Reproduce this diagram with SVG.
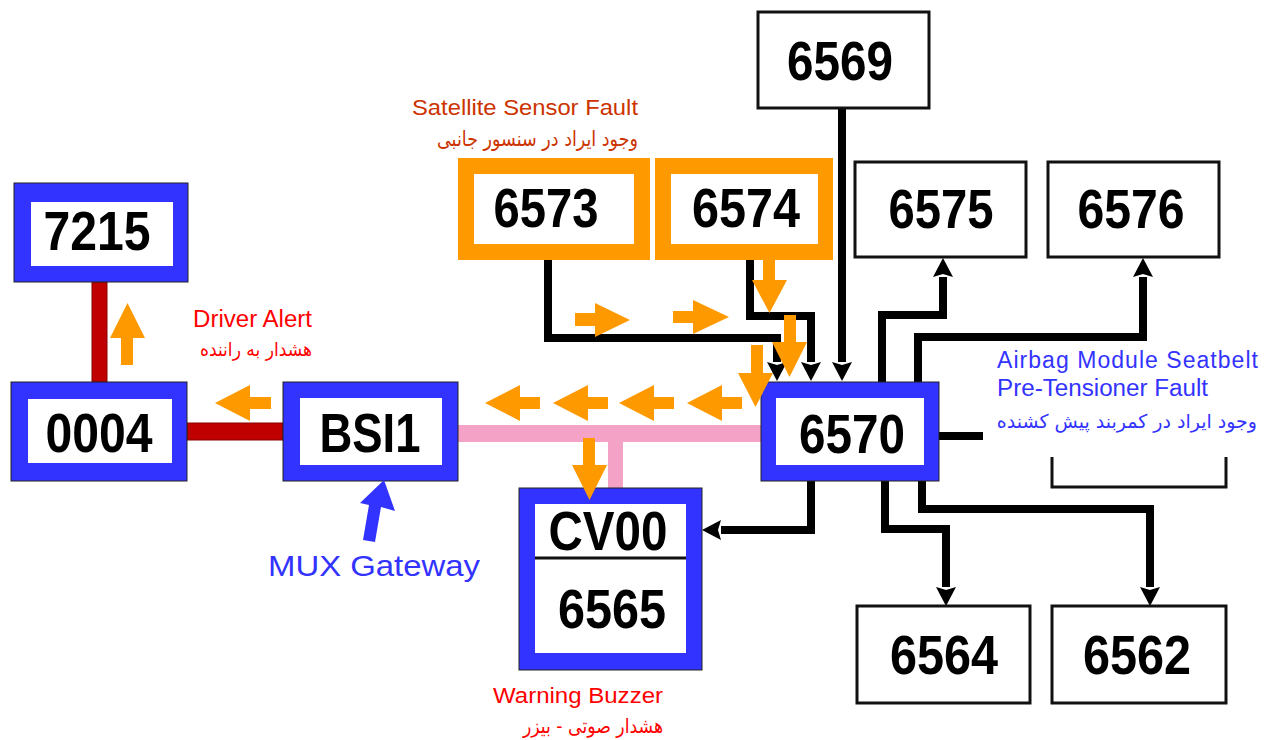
<svg xmlns="http://www.w3.org/2000/svg" width="1271" height="740" viewBox="0 0 1271 740">
<style>
.blue{fill:#3333ff;stroke:#222;stroke-width:1}
.org{fill:#ff9900}
.inner{fill:#fff}
.wbox{fill:#fff;stroke:#111;stroke-width:3}
.lbl{font-family:"Liberation Sans",Arial,sans-serif;font-weight:bold;font-size:56px;fill:#000;text-anchor:middle}
.conn{fill:none;stroke:#000;stroke-width:8;stroke-linejoin:miter;marker-end:url(#ah)}
.en{font-family:"Liberation Sans",Arial,sans-serif}
.fa{font-family:"DejaVu Sans","Noto Sans",sans-serif;text-anchor:end}
.sig{fill:#ff9900}
</style>
<defs>
<marker id="ah" markerUnits="userSpaceOnUse" markerWidth="19" markerHeight="20" viewBox="0 0 19 20" refX="0" refY="10" orient="auto">
<path d="M0,0 L19,10 L0,20 L3,10 z" fill="#000"/>
</marker>
</defs>
<rect width="1271" height="740" fill="#fff"/>

<g id="buses">
<rect x="92" y="282" width="15" height="100" fill="#c00000" stroke="#800" stroke-width="1"/>
<rect x="187" y="423" width="96" height="17" fill="#c00000" stroke="#800" stroke-width="1"/>
<rect x="458" y="425" width="303" height="17" fill="#f4a3c6"/>
<rect x="608" y="440" width="15" height="48" fill="#f4a3c6"/>
</g>

<g id="connectors">
<path class="conn" d="M548,260 V338 H777 V362"/>
<path class="conn" d="M750,260 V316 H811 V362"/>
<path class="conn" d="M842,108 V362"/>
<path class="conn" d="M882,382 V315 H943 V277"/>
<path class="conn" d="M918,382 V337 H1143 V277"/>
<path class="conn" d="M811,481 V530 H721"/>
<path class="conn" d="M885,481 V529 H946 V587"/>
<path class="conn" d="M922,481 V509 H1150 V587"/>
<path d="M939,436 H1000" fill="none" stroke="#000" stroke-width="8"/>
</g>

<g id="n7215">
<rect class="blue" x="14" y="183" width="174" height="99"/>
<rect class="inner" x="31" y="202" width="142" height="64"/>
<text class="lbl" x="97" y="250" textLength="107" lengthAdjust="spacingAndGlyphs">7215</text>
</g>
<g id="n0004">
<rect class="blue" x="11" y="382" width="176" height="99"/>
<rect class="inner" x="28" y="399" width="144" height="64"/>
<text class="lbl" x="99" y="452" textLength="107" lengthAdjust="spacingAndGlyphs">0004</text>
</g>
<g id="nBSI1">
<rect class="blue" x="283" y="382" width="175" height="99"/>
<rect class="inner" x="300" y="398" width="142" height="67"/>
<text class="lbl" x="370" y="452" textLength="101" lengthAdjust="spacingAndGlyphs">BSI1</text>
</g>
<g id="n6570">
<rect class="blue" x="761" y="382" width="178" height="99"/>
<rect class="inner" x="776" y="398" width="148" height="67"/>
<text class="lbl" x="852" y="453" textLength="106" lengthAdjust="spacingAndGlyphs">6570</text>
</g>
<g id="nCV00">
<rect class="blue" x="519" y="488" width="183" height="182"/>
<rect class="inner" x="535" y="504" width="151" height="149"/>
<line x1="535" y1="558" x2="686" y2="558" stroke="#111" stroke-width="3"/>
<text class="lbl" x="608" y="550" textLength="119" lengthAdjust="spacingAndGlyphs">CV00</text>
<text class="lbl" x="612" y="628" textLength="108" lengthAdjust="spacingAndGlyphs">6565</text>
</g>
<g id="n6573">
<rect class="org" x="458" y="158" width="192" height="102"/>
<rect class="inner" x="474" y="174" width="160" height="70"/>
<text class="lbl" x="546" y="227" textLength="105" lengthAdjust="spacingAndGlyphs">6573</text>
</g>
<g id="n6574">
<rect class="org" x="655" y="158" width="178" height="102"/>
<rect class="inner" x="671" y="174" width="147" height="70"/>
<text class="lbl" x="746" y="227" textLength="108" lengthAdjust="spacingAndGlyphs">6574</text>
</g>
<g id="n6569">
<rect class="wbox" x="758" y="12" width="171" height="96"/>
<text class="lbl" x="840" y="80" textLength="106" lengthAdjust="spacingAndGlyphs">6569</text>
</g>
<g id="n6575">
<rect class="wbox" x="855" y="162" width="171" height="95"/>
<text class="lbl" x="941" y="228" textLength="105" lengthAdjust="spacingAndGlyphs">6575</text>
</g>
<g id="n6576">
<rect class="wbox" x="1048" y="162" width="171" height="95"/>
<text class="lbl" x="1131" y="228" textLength="107" lengthAdjust="spacingAndGlyphs">6576</text>
</g>
<g id="n6564">
<rect class="wbox" x="857" y="606" width="173" height="97"/>
<text class="lbl" x="944" y="674" textLength="108" lengthAdjust="spacingAndGlyphs">6564</text>
</g>
<g id="n6562">
<rect class="wbox" x="1052" y="606" width="174" height="97"/>
<text class="lbl" x="1137" y="674" textLength="108" lengthAdjust="spacingAndGlyphs">6562</text>
</g>
<g id="nHidden">
<rect class="wbox" x="1052" y="448" width="174" height="39"/>
</g>

<g id="airbag-label">
<rect x="983" y="341" width="288" height="116" fill="#fff"/>
<text class="en" x="997" y="368" font-size="23" fill="#3333ff" textLength="261" lengthAdjust="spacing">Airbag  Module  Seatbelt</text>
<text class="en" x="997" y="396" font-size="23" fill="#3333ff" textLength="211" lengthAdjust="spacingAndGlyphs">Pre-Tensioner Fault</text>
<text class="fa" x="1257" y="428" font-size="19" fill="#3333ff">وجود ایراد در کمربند پیش کشنده</text>
</g>

<g id="signals">
<polygon class="sig" points="121,365 121,338 110,338 127.5,303 145,338 133,338 133,365"/>
<polygon class="sig" points="271,397 250,397 250,385 215,403 250,421 250,409 271,409"/>
<polygon class="sig" points="540,397 520,397 520,385 485,403 520,421 520,409 540,409"/>
<polygon class="sig" points="608,397 588,397 588,385 553,403 588,421 588,409 608,409"/>
<polygon class="sig" points="674,397 654,397 654,385 619,403 654,421 654,409 674,409"/>
<polygon class="sig" points="742,397 722,397 722,385 687,403 722,421 722,409 742,409"/>
<polygon class="sig" points="583,438 595,438 595,465 607,465 589.5,500 572,465 583,465"/>
<polygon class="sig" points="575,313 595,313 595,303 630,320 595,337 595,326 575,326"/>
<polygon class="sig" points="673,311 693,311 693,300 729,317 693,334 693,323 673,323"/>
<polygon class="sig" points="763,260 775,260 775,280 787,280 769.5,313 752,280 763,280"/>
<polygon class="sig" points="784,315 796,315 796,342 807,342 789.5,377 772,342 784,342"/>
<polygon class="sig" points="751,345 763,345 763,373 773,373 755.5,407 738,373 751,373"/>
<polygon fill="#3333ff" points="384,480 395,511 381,507 375,542 363,540 369,505 360,503"/>
</g>

<g id="labels">
<text class="en" x="412" y="115" font-size="22.5" fill="#cc3300" textLength="226" lengthAdjust="spacingAndGlyphs">Satellite Sensor Fault</text>
<text class="fa" x="638" y="146" font-size="21" fill="#cc3300" textLength="201" lengthAdjust="spacingAndGlyphs">وجود ایراد در سنسور جانبی</text>
<text class="en" x="193" y="327" font-size="23" fill="#ff0000" textLength="119" lengthAdjust="spacingAndGlyphs">Driver Alert</text>
<text class="fa" x="312" y="356" font-size="19" fill="#ff0000" textLength="112" lengthAdjust="spacingAndGlyphs">هشدار به راننده</text>
<text class="en" x="268" y="576" font-size="30" fill="#3333ff" textLength="212" lengthAdjust="spacingAndGlyphs">MUX Gateway</text>
<text class="en" x="493" y="703" font-size="22" fill="#ff0000" textLength="170" lengthAdjust="spacingAndGlyphs">Warning Buzzer</text>
<text class="fa" x="663" y="733" font-size="20" fill="#ff0000" textLength="140" lengthAdjust="spacingAndGlyphs">هشدار صوتی - بیزر</text>
</g>
</svg>
